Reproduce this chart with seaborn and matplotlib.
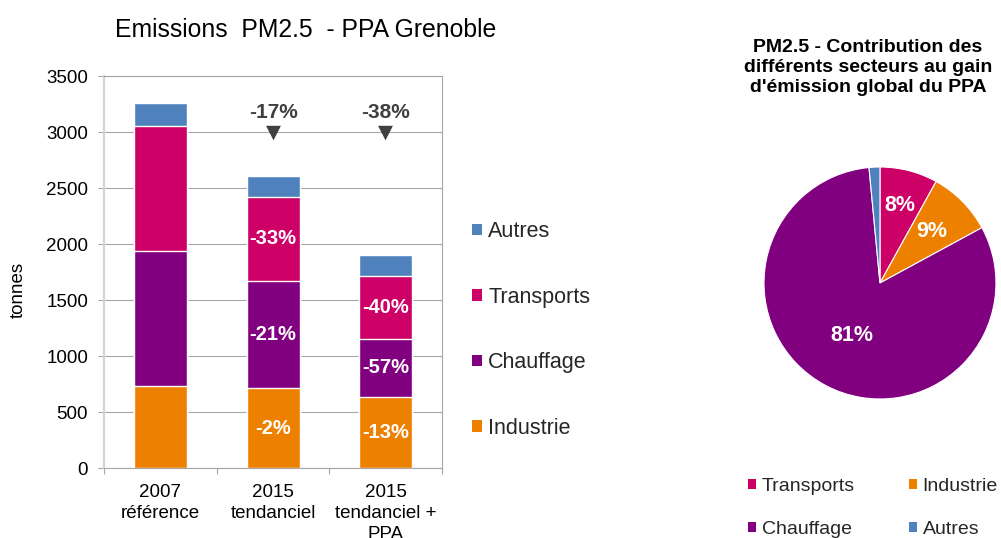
import numpy as np
import pandas as pd
import matplotlib
matplotlib.use("Agg")
import matplotlib.pyplot as plt
import matplotlib.transforms as mtransforms
from matplotlib.patches import Patch
import seaborn as sns

# --- data -------------------------------------------------------------
categories = ["2007\nréférence", "2015\ntendanciel", "2015\ntendanciel +\nPPA"]
series = ["Industrie", "Chauffage", "Transports", "Autres"]
industrie = [731, 714, 636]
chauffage = [1205, 960, 517]
transports = [1118, 744, 560]
autres = [202, 193, 190]

# reduction labels written inside the segments (None = no label)
lbl_industrie = [None, "-2%", "-13%"]
lbl_chauffage = [None, "-21%", "-57%"]
lbl_transports = [None, "-33%", "-40%"]
total_change = [None, "-17%", "-38%"]

pie_sectors = ["Transports", "Industrie", "Chauffage", "Autres"]
pie_share = [8, 9, 81, 1.5]
pie_labels = ["8%", "9%", "81%", None]

colors = {
    "Industrie": "#EE8000",
    "Chauffage": "#800080",
    "Transports": "#CC0066",
    "Autres": "#4F81BD",
}

# --- style ------------------------------------------------------------
sns.set_theme(style="white")
plt.rcParams["font.family"] = ["Liberation Sans", "DejaVu Sans"]
GRID = "#A6A6A6"

fig = plt.figure(figsize=(10.01, 5.38), dpi=100)
fig.patch.set_facecolor("white")

# --- stacked bars -----------------------------------------------------
ax = fig.add_axes([0.1039, 0.1301, 0.3377, 0.7286])

df = pd.DataFrame({
    "categorie": categories,
    "Industrie": industrie,
    "Chauffage": chauffage,
    "Transports": transports,
    "Autres": autres,
})
cum = df[series].cumsum(axis=1)
cum["categorie"] = categories

# draw the cumulative tops from the highest layer down so each
# segment shows its own share
for s in reversed(series):
    sns.barplot(data=cum, x="categorie", y=s, color=colors[s], saturation=1,
                width=0.47, edgecolor="white", linewidth=1.0, ax=ax)

ax.set_xlim(-0.5, 2.5)
ax.set_ylim(0, 3500)
ax.set_yticks(np.arange(0, 3501, 500))
ax.set_xlabel("")
ax.set_ylabel("")
ax.yaxis.grid(True, color=GRID, linewidth=0.8)
ax.xaxis.grid(False)
ax.set_axisbelow(True)

for side in ("top", "right", "bottom"):
    ax.spines[side].set_visible(True)
    ax.spines[side].set_color(GRID)
    ax.spines[side].set_linewidth(0.8)
ax.spines["left"].set_color("#D4D4D4")
ax.spines["left"].set_linewidth(1.6)

ax.tick_params(axis="y", left=True, length=4.5, width=0.8, color=GRID,
               pad=7, labelsize=13.5, labelcolor="black")
ax.set_xticks([-0.5, 0.5, 1.5, 2.5], labels=["", "", "", ""])
ax.set_xticks([0, 1, 2], labels=categories, minor=True)
ax.tick_params(axis="x", which="major", bottom=True, length=4.5, width=0.8,
               color=GRID)
ax.tick_params(axis="x", which="minor", bottom=True, length=0, pad=11.5,
               labelsize=13.5, labelcolor="black")
for t in ax.get_xticklabels(minor=True):
    t.set_linespacing(1.3)

# white reduction labels in the segments
bottoms = np.zeros(len(categories))
for s, vals, labs in [("Industrie", industrie, lbl_industrie),
                      ("Chauffage", chauffage, lbl_chauffage),
                      ("Transports", transports, lbl_transports)]:
    for i, (v, lab) in enumerate(zip(vals, labs)):
        if lab:
            ax.text(i, bottoms[i] + v / 2, lab, ha="center", va="center",
                    color="white", fontsize=14.5, fontweight="bold")
    bottoms += np.array(vals)

# overall change above the bars
trans = mtransforms.blended_transform_factory(ax.transData, ax.transAxes)
for i, lab in enumerate(total_change):
    if lab:
        ax.text(i, 0.908, lab, transform=trans, ha="center", va="center",
                color="#404040", fontsize=15, fontweight="bold")
        ax.text(i, 0.858, "\u25BC", transform=trans, ha="center", va="center",
                color="#404040", fontsize=14, family="DejaVu Sans")

fig.text(306 / 1001, 1 - 37 / 538, "Emissions  PM2.5  - PPA Grenoble",
         ha="center", va="baseline", fontsize=17.8, color="black")
fig.text(18 / 1001, 1 - 290 / 538, "tonnes", rotation=90, ha="center",
         va="center", fontsize=13.5, color="black")

bar_handles = [Patch(facecolor=colors[s], edgecolor="none") for s in reversed(series)]
fig.legend(bar_handles, list(reversed(series)), loc="upper left",
           bbox_to_anchor=(472 / 1001, 1 - 221 / 538), frameon=False,
           fontsize=15.5, handlelength=0.45, handleheight=0.45,
           handletextpad=0.3, labelspacing=2.07, borderpad=0,
           borderaxespad=0)

# --- pie --------------------------------------------------------------
axp = fig.add_axes([0.7632, 0.2584, 0.2318, 0.4312])
wedges, _ = axp.pie(pie_share, colors=[colors[s] for s in pie_sectors],
                    startangle=90, counterclock=False, radius=1.0,
                    wedgeprops=dict(edgecolor="white", linewidth=0.8))
axp.set_xlim(-1, 1)
axp.set_ylim(-1, 1)
axp.set_aspect("equal")

label_dist = [0.69, 0.63, 0.51, 0.6]
for w, lab, d in zip(wedges, pie_labels, label_dist):
    if lab:
        mid = np.deg2rad((w.theta1 + w.theta2) / 2)
        axp.text(d * np.cos(mid), d * np.sin(mid), lab, ha="center",
                 va="center", color="white", fontsize=15.5, fontweight="bold")

fig.text(868 / 1001, 1 - 92 / 538,
         "PM2.5 - Contribution des\ndifférents secteurs au gain\nd'émission global du PPA",
         ha="center", va="baseline", fontsize=14, fontweight="bold",
         linespacing=1.24, color="black")

pie_handles = [Patch(facecolor=colors[s], edgecolor="none") for s in pie_sectors]
fig.legend([pie_handles[0], pie_handles[2], pie_handles[1], pie_handles[3]],
           ["Transports", "Chauffage", "Industrie", "Autres"],
           ncol=2, loc="upper left", bbox_to_anchor=(748 / 1001, 1 - 478 / 538),
           frameon=False, fontsize=14, handlelength=0.42, handleheight=0.42,
           handletextpad=0.3, columnspacing=2.75, labelspacing=1.33,
           borderpad=0, borderaxespad=0)

fig.savefig("out.png", dpi=100, facecolor="white")
